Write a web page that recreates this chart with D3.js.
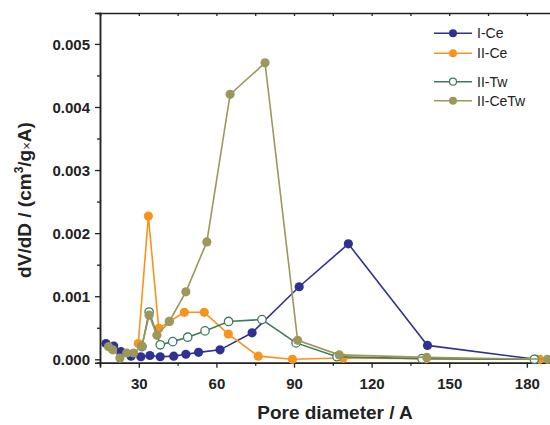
<!DOCTYPE html>
<html>
<head>
<meta charset="utf-8">
<script src="https://cdn.jsdelivr.net/npm/d3@7"></script>
<style>
body { margin: 0; background: #fff; }
svg { font-family: "Liberation Sans", Arial, sans-serif; }
</style>
</head>
<body>
<script>
// data
var seriesNames = ["I-Ce", "II-Ce", "II-Tw", "II-CeTw"];
var colors = ["#2E3192", "#F7941D", "#3E7B5B", "#9C985C"];

var iCeX = [17.3, 20.3, 23.1, 27, 30.8, 34.3, 38.3, 43.5, 48.2, 53.1, 61.4, 73.8, 92, 111, 141.6, 183.5];
var iCeY = [0.00025, 0.00021, 0.00012, 0.00005, 0.00004, 0.00006, 0.00004, 0.00005, 0.00008, 0.00011, 0.00015, 0.00042, 0.00115, 0.00183, 0.00022, 0.0];

var iiCeX = [29.8, 33.7, 37.7, 41.8, 47.6, 55.3, 64.6, 76.2, 89.4, 109, 141, 185];
var iiCeY = [0.00025, 0.00227, 0.00049, 0.0006, 0.000745, 0.000745, 0.0004, 0.00005, 0.0, 0.00002, 0.00001, 0.0];

var iiTwX = [31.2, 34, 38.3, 43.1, 48.9, 55.6, 64.7, 77.6, 90.8, 106.6, 139.5, 182.9];
var iiTwY = [0.0002, 0.00075, 0.00023, 0.00028, 0.00035, 0.00045, 0.0006, 0.00063, 0.00026, 0.00004, 0.00001, 0.0];

var iiCeTwX = [18.3, 19.9, 22.7, 25.3, 28, 31.2, 34, 37, 41.8, 48.2, 56.3, 65.3, 78.8, 91.4, 107.5, 141.3, 188];
var iiCeTwY = [0.0002, 0.00015, 0.00002, 0.0001, 0.0001, 0.00021, 0.0007, 0.00038, 0.0006, 0.00107, 0.00186, 0.0042, 0.0047, 0.0003, 0.00007, 0.00003, 0.0];

var xTicks = [30, 60, 90, 120, 150, 180];
var yTicks = [0, 0.001, 0.002, 0.003, 0.004, 0.005];

var w = 550, h = 425;
var mLeft = 100, mTop = 13, mRight = 552.7, mBottom = 362.7;

var svg = d3.select("body").append("svg")
    .attr("width", w)
    .attr("height", h);

var xScale = d3.scaleLinear().domain([15, 190]).range([mLeft, mRight]);
var yScale = d3.scaleLinear().domain([-0.000054, 0.00549]).range([mBottom, mTop]);

// axes
var xAxis = d3.axisBottom(xScale).tickValues(xTicks).tickSize(5).tickFormat(d3.format("d"));
var xMinor = d3.axisBottom(xScale).tickValues([15, 45, 75, 105, 135, 165]).tickSize(3).tickFormat("");
var xTop = d3.axisTop(xScale).tickValues(d3.range(15, 191, 15)).tickSize(-3).tickFormat("");
var yAxis = d3.axisLeft(yScale).tickValues(yTicks).tickSize(5).tickFormat(d3.format(".3f"));
var yMinor = d3.axisLeft(yScale).tickValues([0.0005, 0.0015, 0.0025, 0.0035, 0.0045]).tickSize(3).tickFormat("");

function styleAxis(g) {
    g.select(".domain").attr("stroke", "#222").attr("stroke-width", 1.5);
    g.selectAll(".tick line").attr("stroke", "#222").attr("stroke-width", 1.3);
    g.selectAll("text").attr("font-size", 15).attr("font-weight", "bold").attr("fill", "#222");
}

svg.append("g").attr("transform", "translate(0," + mBottom + ")").call(xAxis).call(styleAxis)
    .selectAll("text").attr("dy", "1.2em");
svg.append("g").attr("transform", "translate(0," + mBottom + ")").call(xMinor).call(styleAxis);
svg.append("g").attr("transform", "translate(0," + mTop + ")").call(xTop).call(styleAxis);
svg.append("g").attr("transform", "translate(" + mLeft + ",0)").call(yAxis).call(styleAxis)
    .selectAll("text").attr("dy", "0.36em").attr("x", -10);
svg.append("g").attr("transform", "translate(" + mLeft + ",0)").call(yMinor).call(styleAxis);

// axis titles
svg.append("text")
    .attr("x", 335).attr("y", 419)
    .attr("text-anchor", "middle")
    .attr("font-size", 19).attr("font-weight", "bold").attr("fill", "#222")
    .text("Pore diameter / A");

var yt = svg.append("text")
    .attr("transform", "translate(31,200) rotate(-90)")
    .attr("text-anchor", "middle")
    .attr("font-size", 19).attr("font-weight", "bold").attr("fill", "#222");
yt.append("tspan").text("dV/dD / (cm");
yt.append("tspan").attr("font-size", 12).attr("dy", -8).text("3");
yt.append("tspan").attr("dy", 8).text("/g");
yt.append("tspan").attr("font-size", 13).attr("font-weight", "normal").text("\u00d7");
yt.append("tspan").text("A)");

// series
var allSeries = [
    {name: seriesNames[0], x: iCeX, y: iCeY, color: colors[0], open: false},
    {name: seriesNames[1], x: iiCeX, y: iiCeY, color: colors[1], open: false},
    {name: seriesNames[2], x: iiTwX, y: iiTwY, color: colors[2], open: true},
    {name: seriesNames[3], x: iiCeTwX, y: iiCeTwY, color: colors[3], open: false}
];

var line = d3.line().x(d => xScale(d[0])).y(d => yScale(d[1]));

var plot = svg.append("g");

allSeries.forEach(function(s) {
    var pts = s.x.map((v, i) => [v, s.y[i]]);
    plot.append("path")
        .datum(pts)
        .attr("d", line)
        .attr("fill", "none")
        .attr("stroke", s.color)
        .attr("stroke-width", 1.6);
    plot.selectAll(null)
        .data(pts)
        .enter()
        .append("circle")
        .attr("cx", d => xScale(d[0]))
        .attr("cy", d => yScale(d[1]))
        .attr("r", s.open ? 4.2 : 4.6)
        .attr("fill", s.open ? "#fff" : s.color)
        .attr("stroke", s.color)
        .attr("stroke-width", s.open ? 1.3 : 0);
});

// legend
var legendY = [33.3, 53.3, 81.7, 100.7];
var legend = svg.append("g");
allSeries.forEach(function(s, i) {
    var g = legend.append("g").attr("transform", "translate(0," + legendY[i] + ")");
    g.append("line").attr("x1", 434).attr("x2", 472)
        .attr("stroke", s.color).attr("stroke-width", 1.6);
    g.append("circle").attr("cx", 453).attr("cy", 0)
        .attr("r", s.open ? 3.5 : 4)
        .attr("fill", s.open ? "#fff" : s.color)
        .attr("stroke", s.color)
        .attr("stroke-width", s.open ? 1.2 : 0);
    g.append("text").attr("x", 477).attr("y", 5)
        .attr("font-size", 14).attr("fill", "#222")
        .text(s.name);
});
</script>
</body>
</html>
